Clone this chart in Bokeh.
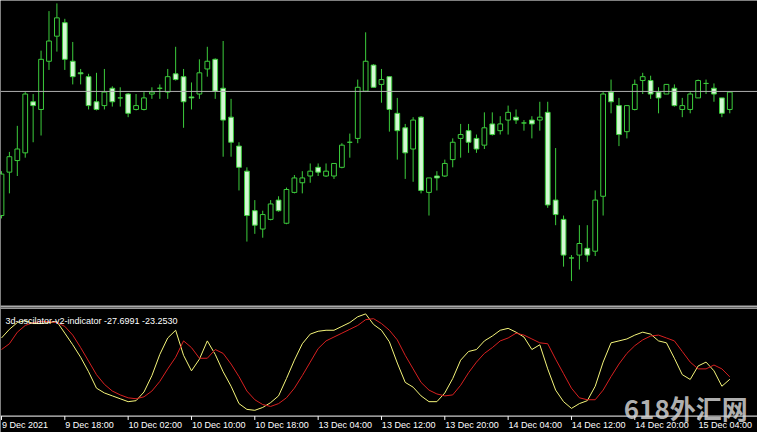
from bokeh.plotting import figure
from bokeh.models import Range1d, Span, Label, ColumnDataSource
from bokeh.core.properties import value
from bokeh.embed import file_html
from bokeh.resources import INLINE

# ---- data (price in points) ----
open_ = [93,138,150,158,211,203,253,279,293,253,
         241,237,211,207,225,215,219,203,203,219,
         225,221,240,237,216,219,245,255,225,195,
         165,139,98,79,89,109,85,117,127,134,
         143,134,134,143,169,173,222,249,229,237,
         199,184,162,195,117,134,134,151,173,181,
         173,166,188,181,192,195,189,192,192,200,
         109,89,49,52,59,56,113,221,207,180,
         203,233,233,221,219,225,203,203,215,230,
         225,215,203]
high = [139,159,186,221,219,264,305,313,297,273,
        245,240,241,245,227,226,220,219,221,226,
        229,245,268,245,231,255,268,256,274,214,
        169,143,109,98,109,113,122,135,139,147,
        147,147,147,168,178,234,283,250,245,237,
        215,188,195,196,132,139,151,173,188,188,
        177,200,200,196,207,203,192,196,211,211,
        163,93,52,83,83,119,221,234,215,207,
        234,241,238,226,229,229,215,221,234,234,
        230,215,222]
low = [90,116,134,153,169,176,244,263,244,229,
       229,203,202,203,206,206,195,202,202,214,
       214,214,233,184,203,214,237,214,154,154,
       119,66,74,70,88,97,84,116,116,127,
       134,133,131,142,153,168,221,226,210,180,
       151,131,128,116,93,119,133,143,153,158,
       158,162,176,177,177,188,181,173,181,101,
       83,40,25,37,45,51,93,199,165,173,
       202,219,214,199,219,206,195,199,215,219,
       211,195,199]
close = [136,154,162,219,207,255,274,298,255,237,
         240,207,203,221,211,215,199,207,215,221,
         225,237,234,211,215,241,253,222,192,169,
         143,93,83,94,105,98,120,132,132,139,
         138,139,147,166,169,226,253,226,234,203,
         181,158,192,119,132,132,147,169,177,169,
         162,184,177,188,200,192,189,188,195,104,
         94,52,49,64,52,109,219,211,177,207,
         229,237,219,215,229,207,207,219,233,230,
         219,199,221]
level_price = 221.7

osc_fast = [47.3,63.0,75.3,78.8,73.5,73.5,75.3,77.0,56.0,35.0,
            12.3,-14.0,-43.8,-52.5,-57.8,-63.0,-68.3,-66.5,-50.8,-21.0,
            17.5,47.3,61.3,15.8,-12.3,8.8,42.0,17.5,-14.0,-40.3,
            -71.8,-82.3,-84.0,-78.8,-70.0,-57.8,-26.3,7.0,36.8,54.3,
            59.5,61.3,61.3,68.3,75.3,85.8,91.0,71.8,61.3,40.3,
            1.8,-33.3,-42.0,-57.8,-68.3,-68.3,-52.5,-26.3,7.0,22.8,
            26.3,42.0,50.8,61.3,64.8,57.8,49.0,26.3,35.0,-8.8,
            -47.3,-68.3,-80.5,-71.8,-66.5,-40.3,3.5,38.5,42.0,45.5,
            52.5,57.8,54.3,42.0,38.5,10.5,-19.3,-28.0,-3.5,3.5,
            -12.3,-40.3,-27.7]
osc_slow = [26.3,36.8,57.8,70.0,75.3,77.0,77.0,75.3,68.3,52.5,
            29.8,5.3,-19.3,-36.8,-49.0,-56.0,-61.3,-63.0,-59.5,-49.0,
            -31.5,-8.8,12.3,42.0,29.8,10.5,10.5,26.3,19.3,0.0,
            -22.8,-49.0,-64.8,-73.5,-77.0,-71.8,-61.3,-43.8,-21.0,3.5,
            28.0,42.0,49.0,56.0,63.0,70.0,80.5,82.3,73.5,61.3,
            43.8,15.8,-8.8,-33.3,-47.3,-54.3,-57.8,-56.0,-38.5,-15.8,
            3.5,19.3,29.8,42.0,47.3,56.0,52.5,45.5,38.5,36.8,
            8.8,-17.5,-43.8,-61.3,-64.8,-64.8,-47.3,-22.8,0.0,19.3,
            33.3,43.8,50.8,52.5,47.3,42.0,22.8,3.5,-8.8,-8.8,
            -1.8,-8.8,-23.3]
osc_title = "3d-oscilator-v2-indicator -27.6991 -23.2530"

tick_idx = [0, 8, 16, 24, 32, 40, 48, 56, 64, 72, 80, 88]
tick_labels = ["9 Dec 2021", "9 Dec 18:00", "10 Dec 02:00", "10 Dec 10:00",
               "10 Dec 18:00", "13 Dec 04:00", "13 Dec 12:00", "13 Dec 20:00",
               "14 Dec 04:00", "14 Dec 12:00", "14 Dec 20:00", "15 Dec 04:00"]
watermark = "618外汇网"

# ---- styles / layout ----
GREEN = "#3ccc3c"
BEAR_FILL = "#d4f7d4"
YELLOW = "#f5f57a"
RED = "#d82020"
FONT = "Liberation Sans"
AXIS_Y = -115       # level of the time-axis line (main price units)
SEP1, SEP2 = -1, -3  # separator lines between the two windows

idx = list(range(len(close)))
src = ColumnDataSource(dict(
    x=idx,
    left=[i - 0.3 for i in idx],
    right=[i + 0.3 for i in idx],
    top=[max(o, c) for o, c in zip(open_, close)],
    bottom=[min(o, c) for o, c in zip(open_, close)],
    high=high, low=low,
    fill=[BEAR_FILL if c < o else "black" for o, c in zip(open_, close)],
))

p = figure(width=757, height=432, x_range=Range1d(-0.125, 95.5),
           y_range=Range1d(-132, 316), output_backend="svg",
           toolbar_location=None, x_axis_location=None, y_axis_location=None,
           background_fill_color="black", border_fill_color="black",
           outline_line_color=None, min_border=0)
p.extra_y_ranges = {"osc": Range1d(-124.25, 659.75)}
p.xgrid.visible = False
p.ygrid.visible = False

# separators, level line, time-axis line
p.add_layout(Span(location=level_price, dimension="width", line_color="#b0b0b0", line_width=1))
p.add_layout(Span(location=SEP1, dimension="width", line_color="white", line_width=1))
p.add_layout(Span(location=SEP2, dimension="width", line_color="white", line_width=1))
p.add_layout(Span(location=AXIS_Y, dimension="width", line_color="white", line_width=1))

# candles
p.segment(x0="x", y0="low", x1="x", y1="high", source=src, line_color=GREEN, line_width=1)
p.quad(left="left", right="right", top="top", bottom="bottom", source=src,
       fill_color="fill", line_color=GREEN, line_width=1)

# oscillator
p.line(idx, osc_fast, y_range_name="osc", line_color=YELLOW, line_width=1)
p.line(idx, osc_slow, y_range_name="osc", line_color=RED, line_width=1)
p.add_layout(Label(x=0.5, y=78.75, y_range_name="osc", text=osc_title,
                   text_font=FONT, text_font_size="9px", text_color="white",
                   text_baseline="alphabetic"))

# watermark
p.add_layout(Label(x=78.6, y=-106, text=watermark, text_font="Noto Sans CJK SC",
                   text_font_style="bold", text_font_size="26px",
                   text_color="#d0d0d0", text_alpha=0.85, text_baseline="middle"))

# time axis: ticks and left-aligned labels
tsrc = ColumnDataSource(dict(x=tick_idx, lx=[k + 0.05 for k in tick_idx],
                             y0=[AXIS_Y] * len(tick_idx), y1=[AXIS_Y - 4] * len(tick_idx),
                             ly=[AXIS_Y - 4] * len(tick_idx), text=tick_labels))
p.segment(x0="x", y0="y0", x1="x", y1="y1", source=tsrc, line_color="white", line_width=1)
p.text(x="lx", y="ly", text="text", source=tsrc, text_font=value(FONT),
       text_font_size="9px", text_color="white", text_align="left",
       text_baseline="top")

open("out.html", "w").write(file_html(p, INLINE))
